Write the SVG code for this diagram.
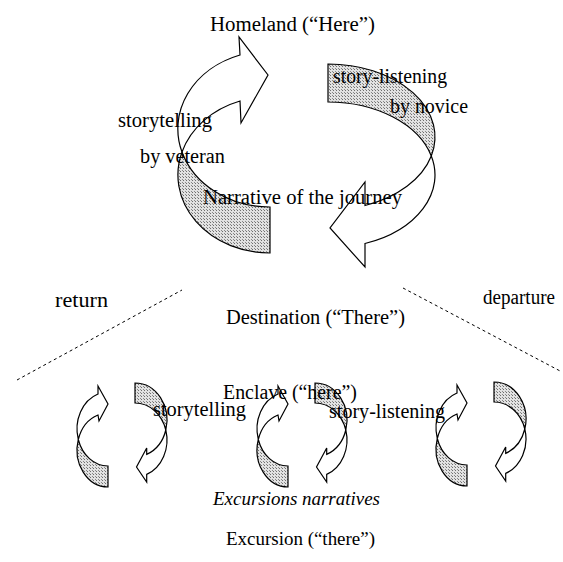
<svg xmlns="http://www.w3.org/2000/svg" width="563" height="562" viewBox="0 0 563 562">
<defs>
<pattern id="stip" width="3" height="3" patternUnits="userSpaceOnUse">
<rect width="3" height="3" fill="#e2e2e2"/>
<rect x="0" y="0" width="1" height="1" fill="#6e6e6e"/>
<rect x="2" y="2" width="1" height="1" fill="#8a8a8a"/>
</pattern>
</defs>
<style>
.w{fill:#fff;stroke:#000;stroke-width:1.2;stroke-linejoin:miter}
.s{fill:url(#stip);stroke:#000;stroke-width:1.2}
.t{font-family:"Liberation Serif","Times New Roman",serif;font-size:20px;fill:#000}
.i{font-style:italic;font-size:19px}
.d{fill:none;stroke:#000;stroke-width:1;stroke-dasharray:3 3}
</style>
<rect width="563" height="562" fill="#fff"/>

<g id="connectors">
<line class="d" x1="17" y1="380" x2="182" y2="290"/>
<line class="d" x1="403" y1="288" x2="562" y2="372"/>
</g>

<g id="big-cycle">
<g id="big-left-arrow">
<path class="s" d="M182,152 A92,78 0 0 0 270,253 L270,207 A92,78 0 0 1 182,152 Z"/>
<path class="w" d="M182,152 A92,78 0 0 1 240,55 L239,37 L268,75 L241,123 L240,101 A92,78 0 0 0 182,152 Z"/>
</g>
<g id="big-right-arrow">
<path class="s" d="M328,64 A107,73 0 0 1 431.3,156 A107,73 0 0 0 328,102 Z"/>
<path class="w" d="M431.3,156 A107,73 0 0 1 365,243.5 L365,267 L330,228 L365,182 L365,205.5 A107,73 0 0 0 431.3,156 Z"/>
</g>
</g>

<g id="small-pair-1">
<path class="s" d="M78.3,439.5 A31,37 0 0 0 108,487 L108,466 A31,37 0 0 1 78.3,439.5 Z"/>
<path class="w" d="M78.3,439.5 A31,37 0 0 1 98,394 L98,386 L108,404 L99,421 L98,415 A31,37 0 0 0 78.3,439.5 Z"/>
<path class="s" d="M135,383 A32,37 0 0 1 165.8,430 A32,37 0 0 0 135,403 Z"/>
<path class="w" d="M165.8,430 A32,37 0 0 1 146.7,474.4 L146.7,482 L136.5,467 L146.7,448 L146.7,454.4 A32,37 0 0 0 165.8,430 Z"/>
</g>
<g id="small-pair-2" transform="translate(180,0)">
<path class="s" d="M78.3,439.5 A31,37 0 0 0 108,487 L108,466 A31,37 0 0 1 78.3,439.5 Z"/>
<path class="w" d="M78.3,439.5 A31,37 0 0 1 98,394 L98,386 L108,404 L99,421 L98,415 A31,37 0 0 0 78.3,439.5 Z"/>
<path class="s" d="M135,383 A32,37 0 0 1 165.8,430 A32,37 0 0 0 135,403 Z"/>
<path class="w" d="M165.8,430 A32,37 0 0 1 146.7,474.4 L146.7,482 L136.5,467 L146.7,448 L146.7,454.4 A32,37 0 0 0 165.8,430 Z"/>
</g>
<g id="small-pair-3" transform="translate(359,-1)">
<path class="s" d="M78.3,439.5 A31,37 0 0 0 108,487 L108,466 A31,37 0 0 1 78.3,439.5 Z"/>
<path class="w" d="M78.3,439.5 A31,37 0 0 1 98,394 L98,386 L108,404 L99,421 L98,415 A31,37 0 0 0 78.3,439.5 Z"/>
<path class="s" d="M135,383 A32,37 0 0 1 165.8,430 A32,37 0 0 0 135,403 Z"/>
<path class="w" d="M165.8,430 A32,37 0 0 1 146.7,474.4 L146.7,482 L136.5,467 L146.7,448 L146.7,454.4 A32,37 0 0 0 165.8,430 Z"/>
</g>

<g id="labels">
<text class="t" x="210" y="31" textLength="165" lengthAdjust="spacingAndGlyphs">Homeland (“Here”)</text>
<text class="t" x="118" y="127" textLength="94" lengthAdjust="spacingAndGlyphs">storytelling</text>
<text class="t" x="140" y="163" textLength="85" lengthAdjust="spacingAndGlyphs">by veteran</text>
<text class="t" x="333" y="83" textLength="114" lengthAdjust="spacingAndGlyphs">story-listening</text>
<text class="t" x="390" y="113" textLength="78" lengthAdjust="spacingAndGlyphs">by novice</text>
<text class="t" x="203" y="204" textLength="199" lengthAdjust="spacingAndGlyphs">Narrative of the journey</text>
<text class="t" x="55" y="307" textLength="53" lengthAdjust="spacingAndGlyphs">return</text>
<text class="t" x="226" y="324" textLength="179" lengthAdjust="spacingAndGlyphs">Destination (“There”)</text>
<text class="t" x="483" y="304" textLength="72" lengthAdjust="spacingAndGlyphs">departure</text>
<text class="t" x="223" y="399" textLength="134" lengthAdjust="spacingAndGlyphs">Enclave (“here”)</text>
<text class="t" x="153" y="416" textLength="93" lengthAdjust="spacingAndGlyphs">storytelling</text>
<text class="t" x="329" y="418" textLength="116" lengthAdjust="spacingAndGlyphs">story-listening</text>
<text class="t i" x="213" y="505" textLength="167" lengthAdjust="spacingAndGlyphs">Excursions narratives</text>
<text class="t" x="226" y="545" textLength="149" lengthAdjust="spacingAndGlyphs" style="font-size:19px">Excursion (“there”)</text>
</g>
</svg>
